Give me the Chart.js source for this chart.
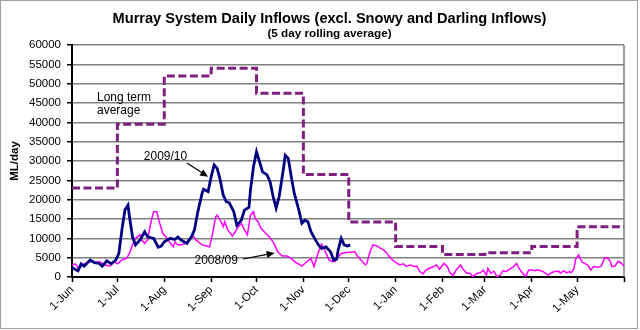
<!DOCTYPE html>
<html>
<head>
<meta charset="utf-8">
<script src="https://cdn.jsdelivr.net/npm/chart.js@4.4.1/dist/chart.umd.min.js"></script>
<style>
  body { margin: 0; background: #fff; }
  #wrap { width: 640px; height: 330px; }
</style>
</head>
<body>
<div id="wrap"><canvas id="inflowChart" width="640" height="330"></canvas></div>
<script>
// Dias contados desde el 1 de junio y etiquetas del eje X
const monthStarts = [0, 30, 61, 92, 122, 153, 183, 214, 245, 273, 304, 334, 365];
const monthLabels = ['1-Jun', '1-Jul', '1-Aug', '1-Sep', '1-Oct', '1-Nov', '1-Dec',
                     '1-Jan', '1-Feb', '1-Mar', '1-Apr', '1-May', ''];
const yTicks = [0, 5000, 10000, 15000, 20000, 25000, 30000, 35000, 40000, 45000, 50000, 55000, 60000];

// Promedio de largo plazo (un valor por mes, el ultimo cierra el escalon)
const ltaDays = monthStarts;
const ltaFlow = [23000, 39500, 52000, 54000, 47500, 26500, 14200, 7900, 5800, 6300, 7900, 13000, 13000];

// 2009/10
const days0910 = [0, 2, 4, 6, 8, 12, 15, 18, 20, 23, 26, 29, 31, 33, 35, 37, 38, 40, 42, 45, 48, 50,
                  54, 57, 59, 61, 65, 68, 70, 72, 76, 79, 81, 83, 86, 87, 90, 92, 94, 96, 98, 100,
                  102, 104, 107, 109, 112, 114, 117, 118, 120, 122, 124, 126, 129, 131, 133, 135,
                  137, 140, 141, 143, 145, 147, 150, 152, 154, 156, 158, 161, 163, 165, 168, 171,
                  173, 175, 176, 178, 180, 182, 184];
const flow0910 = [2500, 2000, 1600, 3400, 2800, 4400, 3700, 3500, 2800, 4200, 3400, 4400, 6100, 12200,
                  17300, 18600, 15600, 10400, 8300, 9600, 11700, 10400, 10000, 7700, 8000, 9100,
                  10000, 9700, 10300, 9600, 8700, 10400, 12200, 16500, 21600, 22700, 22100, 25900,
                  29000, 28100, 25100, 21200, 19500, 19200, 16900, 13400, 14700, 17300, 18000, 22500,
                  28500, 32400, 29800, 27200, 26400, 24600, 20800, 17800, 20800, 28500, 31500, 30700,
                  25900, 21600, 17300, 13900, 14700, 14300, 11700, 9600, 8300, 7400, 7800, 6500,
                  4400, 4600, 7000, 10000, 8300, 8000, 8300];

// 2008/09
const days0809 = [0, 2, 4, 6, 8, 12, 15, 18, 22, 25, 28, 30, 33, 36, 38, 40, 42, 45, 46, 48, 50, 52,
                  54, 56, 58, 60, 63, 65, 67, 68, 70, 73, 75, 78, 80, 82, 86, 89, 91, 93, 95, 96,
                  98, 100, 101, 103, 106, 108, 110, 112, 114, 116, 118, 120, 121, 123, 125, 128,
                  130, 132, 134, 136, 139, 142, 145, 147, 150, 152, 154, 156, 158, 160, 161, 163,
                  165, 167, 170, 172, 174, 176, 178, 182, 185, 187, 189, 192, 194, 195, 197, 199,
                  202, 204, 206, 208, 210, 212, 215, 217, 219, 221, 224, 226, 228, 230, 232, 234,
                  236, 239, 241, 243, 246, 248, 250, 252, 254, 257, 259, 261, 263, 265, 268, 270,
                  272, 274, 275, 277, 279, 281, 283, 285, 287, 290, 292, 294, 295, 297, 300, 302,
                  304, 306, 308, 311, 313, 315, 317, 319, 322, 323, 325, 327, 329, 330, 332, 333,
                  335, 337, 339, 341, 343, 345, 348, 350, 352, 354, 356, 357, 359, 361, 363, 365];
const flow0809 = [3100, 3400, 2500, 2700, 3400, 4000, 3700, 4000, 3100, 2800, 4000, 3400, 4400, 4800,
                  6100, 8300, 10000, 10900, 9600, 8700, 9600, 13900, 16900, 16900, 13900, 11300,
                  10000, 8700, 7800, 9100, 8300, 8400, 8700, 10000, 10600, 9600, 8300, 8000, 7800,
                  11300, 15600, 16000, 14700, 13000, 14300, 12200, 10600, 11700, 13000, 13900,
                  12200, 10900, 16000, 16900, 15200, 14300, 12600, 11300, 10600, 9600, 8300, 6500,
                  5400, 5400, 4800, 4000, 3300, 2800, 3500, 4200, 4800, 2700, 4000, 6500, 8500,
                  7000, 4400, 4000, 4000, 5200, 6100, 6400, 6400, 6500, 5200, 4000, 3100, 3500,
                  6500, 8300, 8000, 7400, 7000, 6300, 5200, 4400, 3500, 3100, 3400, 2800, 3100,
                  2700, 2800, 1400, 800, 1800, 2200, 2700, 3100, 2000, 3500, 2800, 1100, 400, 1800,
                  3100, 1800, 1000, 1000, 100, 1000, 1100, 1800, 500, 2200, 1000, 1500, 100, 500,
                  1600, 1400, 2200, 2700, 3500, 2700, 1400, 100, 1800, 1800, 1600, 1800, 1500,
                  1000, 500, 1100, 1400, 1500, 1000, 1600, 1100, 1400, 1100, 2200, 4600, 5700,
                  4000, 3500, 3100, 1800, 2700, 2500, 2800, 4800, 5000, 4000, 2700, 2800, 4000,
                  3700, 2800];

// Notas sobre el grafico, en unidades de datos (dia, ML/day)
const noteLta = { lines: ['Long term', 'average'], day: 16.5, value: 46300, step: 3300 };
const note0910 = { text: '2009/10', day: 47.5, value: 31000, from: [76, 29500], to: [90, 25900] };
const note0809 = { text: '2008/09', day: 81, value: 4100, from: [113, 4650], to: [134, 6200] };

const FONT = '"Liberation Sans", Arial, sans-serif';

function toPoints(days, flows) {
    return days.map((d, i) => ({ x: d, y: flows[i] }));
}

function drawArrow(ctx, x1, y1, x2, y2) {
    const ang = Math.atan2(y2 - y1, x2 - x1);
    ctx.beginPath();
    ctx.moveTo(x1, y1);
    ctx.lineTo(x2 - 5 * Math.cos(ang), y2 - 5 * Math.sin(ang));
    ctx.stroke();
    ctx.beginPath();
    ctx.moveTo(x2, y2);
    ctx.lineTo(x2 - 8 * Math.cos(ang) + 3.5 * Math.sin(ang), y2 - 8 * Math.sin(ang) - 3.5 * Math.cos(ang));
    ctx.lineTo(x2 - 8 * Math.cos(ang) - 3.5 * Math.sin(ang), y2 - 8 * Math.sin(ang) + 3.5 * Math.cos(ang));
    ctx.closePath();
    ctx.fill();
}

// Titulos, marco y anotaciones
const decorPlugin = {
    id: 'decor',
    beforeDatasetsDraw(chart) {
        const { ctx, chartArea: a } = chart;
        ctx.save();
        ctx.strokeStyle = '#808080';
        ctx.lineWidth = 1.5;
        ctx.beginPath();
        ctx.moveTo(a.right, a.top);
        ctx.lineTo(a.right, a.bottom);
        ctx.stroke();
        ctx.restore();
    },
    afterDraw(chart) {
        const { ctx, scales: { x, y } } = chart;
        ctx.save();
        ctx.strokeStyle = '#a0a0a0';
        ctx.lineWidth = 1;
        ctx.strokeRect(0.5, 0.5, 637, 328);

        ctx.fillStyle = '#000';
        ctx.textAlign = 'center';
        ctx.textBaseline = 'middle';
        ctx.font = 'bold 14.6px ' + FONT;
        ctx.fillText('Murray System Daily Inflows (excl. Snowy and Darling Inflows)', 329.5, 19);
        ctx.font = 'bold 11.7px ' + FONT;
        ctx.fillText('(5 day rolling average)', 329.5, 34);

        ctx.font = '12px ' + FONT;
        ctx.textAlign = 'left';
        noteLta.lines.forEach((t, i) => {
            ctx.fillText(t, x.getPixelForValue(noteLta.day), y.getPixelForValue(noteLta.value - i * noteLta.step));
        });
        [note0910, note0809].forEach(n => {
            ctx.fillText(n.text, x.getPixelForValue(n.day), y.getPixelForValue(n.value));
            ctx.strokeStyle = '#000';
            ctx.lineWidth = 1.2;
            drawArrow(ctx,
                x.getPixelForValue(n.from[0]), y.getPixelForValue(n.from[1]),
                x.getPixelForValue(n.to[0]), y.getPixelForValue(n.to[1]));
        });
        ctx.restore();
    }
};

const ctx = document.getElementById('inflowChart');
new Chart(ctx, {
    type: 'line',
    data: {
        datasets: [{
            label: 'Long term average',
            data: toPoints(ltaDays, ltaFlow),
            borderColor: '#7f1f7f',
            borderWidth: 3,
            borderDash: [8, 3.5],
            stepped: true,
            pointRadius: 0,
            fill: false
        }, {
            label: '2009/10',
            data: toPoints(days0910, flow0910),
            borderColor: '#000080',
            borderWidth: 2.8,
            pointRadius: 0,
            fill: false
        }, {
            label: '2008/09',
            data: toPoints(days0809, flow0809),
            borderColor: '#ff00ff',
            borderWidth: 1.5,
            pointRadius: 0,
            fill: false
        }]
    },
    options: {
        responsive: false,
        animation: false,
        devicePixelRatio: 1,
        layout: { padding: { left: 6, right: 16, top: 45, bottom: 0 } },
        plugins: {
            legend: { display: false },
            title: { display: false },
            tooltip: { enabled: false }
        },
        scales: {
            x: {
                type: 'linear',
                min: 0,
                max: 365,
                afterBuildTicks: scale => { scale.ticks = monthStarts.map(v => ({ value: v })); },
                afterFit: scale => { scale.height = 53; },
                ticks: {
                    autoSkip: false,
                    maxRotation: 45,
                    minRotation: 45,
                    padding: 1,
                    color: '#000',
                    font: { family: FONT, size: 11.5 },
                    callback: v => monthLabels[monthStarts.indexOf(v)]
                },
                grid: {
                    drawOnChartArea: false,
                    tickColor: '#000',
                    tickLength: 5,
                    tickWidth: 1.5
                },
                border: { color: '#000', width: 2 }
            },
            y: {
                min: 0,
                max: 60000,
                afterBuildTicks: scale => { scale.ticks = yTicks.map(v => ({ value: v })); },
                afterFit: scale => { scale.width = 66; },
                ticks: {
                    padding: 6,
                    color: '#000',
                    font: { family: FONT, size: 11.5 },
                    callback: v => String(v)
                },
                grid: {
                    color: '#808080',
                    lineWidth: 1.5,
                    tickColor: '#000',
                    tickLength: 5,
                    tickWidth: 1.5
                },
                border: { color: '#000', width: 2 },
                title: {
                    display: true,
                    text: 'ML/day',
                    color: '#000',
                    font: { family: FONT, size: 11.5, weight: 'bold' },
                    padding: { top: 2, bottom: 0 }
                }
            }
        }
    },
    plugins: [decorPlugin]
});
</script>
</body>
</html>
